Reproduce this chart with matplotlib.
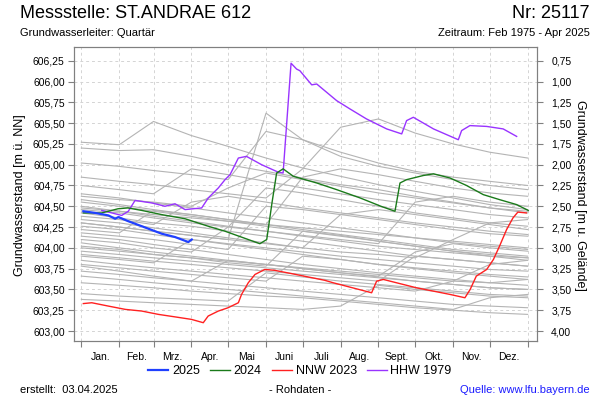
import matplotlib
matplotlib.use("Agg")
import matplotlib.pyplot as plt
from matplotlib.lines import Line2D

plt.rcParams['font.family'] = ['Liberation Sans', 'DejaVu Sans']

# Monatsgrenzen (Tag im Jahr)
month_days = [0, 31, 59, 90, 120, 151, 181, 212, 243, 273, 304, 334, 365]
month_names = ["Jan.", "Feb.", "Mrz.", "Apr.", "Mai", "Juni", "Juli",
               "Aug.", "Sept.", "Okt.", "Nov.", "Dez."]
gelaende = 607.0

# Jahresganglinien (grau), Werte am Monatsanfang
gray_years = [
    [605.27, 605.24, 605.52, 605.35, 605.22, 605.08, 604.96, 604.86, 604.76, 604.68, 604.60, 604.52, 604.46],
    [605.20, 605.17, 605.18, 605.10, 605.00, 604.92, 604.84, 604.76, 604.70, 604.62, 604.55, 604.48, 604.42],
    [605.02, 604.98, 604.93, 604.88, 604.82, 605.40, 605.30, 605.15, 605.02, 604.92, 604.85, 604.80, 604.75],
    [604.85, 604.80, 604.76, 604.70, 604.65, 604.60, 604.95, 605.45, 605.55, 605.38, 605.25, 605.15, 605.08],
    [604.30, 604.25, 604.20, 604.15, 604.10, 605.62, 605.30, 605.10, 604.98, 604.90, 604.82, 604.75, 604.70],
    [604.62, 604.58, 604.55, 604.50, 604.72, 604.90, 604.82, 604.74, 604.66, 604.60, 604.54, 604.48, 604.44],
    [604.58, 604.52, 604.46, 604.40, 604.34, 604.28, 604.85, 604.95, 604.88, 604.80, 604.72, 604.66, 604.62],
    [604.55, 604.50, 604.44, 604.38, 604.32, 604.26, 604.20, 604.14, 604.08, 604.02, 603.96, 603.92, 603.88],
    [604.50, 604.44, 604.38, 604.32, 604.26, 604.20, 604.15, 604.10, 604.05, 604.55, 604.62, 604.55, 604.50],
    [604.46, 604.42, 604.36, 604.30, 604.25, 604.72, 604.66, 604.58, 604.50, 604.42, 604.36, 604.30, 604.26],
    [604.42, 604.36, 604.30, 604.26, 604.20, 604.14, 604.08, 604.02, 603.96, 603.90, 603.86, 603.82, 603.78],
    [604.38, 604.34, 604.28, 604.55, 604.62, 604.55, 604.48, 604.42, 604.36, 604.30, 604.25, 604.20, 604.16],
    [604.34, 604.30, 604.24, 604.18, 604.12, 604.06, 604.00, 604.40, 604.46, 604.40, 604.34, 604.28, 604.22],
    [604.30, 604.25, 604.20, 604.15, 604.10, 604.05, 604.00, 603.95, 603.92, 603.88, 604.10, 604.30, 604.34],
    [604.26, 604.22, 604.16, 604.10, 604.04, 603.98, 603.92, 603.86, 603.80, 603.76, 603.72, 603.68, 603.65],
    [604.22, 604.18, 604.45, 604.40, 604.34, 604.28, 604.22, 604.16, 604.10, 604.04, 603.98, 603.94, 603.90],
    [604.18, 604.14, 604.10, 604.04, 603.98, 604.50, 604.46, 604.40, 604.34, 604.28, 604.22, 604.17, 604.14],
    [604.14, 604.10, 604.04, 603.98, 603.92, 603.86, 603.80, 603.75, 603.70, 603.66, 603.62, 603.58, 603.55],
    [604.10, 604.06, 604.00, 603.95, 604.25, 604.20, 604.14, 604.08, 604.02, 603.98, 603.94, 603.90, 603.88],
    [604.06, 604.00, 603.95, 603.90, 603.85, 603.80, 603.75, 603.70, 603.66, 603.95, 604.05, 604.00, 603.96],
    [604.02, 603.98, 603.92, 603.88, 603.82, 603.78, 604.20, 604.15, 604.08, 604.02, 603.96, 603.90, 603.85],
    [603.96, 603.92, 603.88, 603.84, 603.80, 603.76, 603.72, 603.68, 603.64, 603.60, 603.56, 603.52, 603.50],
    [603.90, 603.86, 603.82, 604.10, 604.05, 604.00, 603.95, 603.90, 603.86, 603.82, 603.78, 603.74, 603.72],
    [603.85, 603.80, 603.76, 603.72, 603.68, 603.64, 603.60, 603.56, 603.52, 603.48, 603.60, 603.80, 603.85],
    [603.80, 603.76, 603.72, 603.68, 603.64, 603.60, 603.90, 603.86, 603.80, 603.75, 603.70, 603.66, 603.62],
    [603.78, 603.72, 603.66, 603.60, 603.56, 603.52, 603.48, 603.44, 603.40, 603.36, 603.32, 603.30, 603.28],
    [603.72, 603.68, 603.64, 603.60, 603.85, 603.80, 603.75, 603.70, 603.65, 603.60, 603.56, 603.52, 603.50],
    [603.66, 603.62, 603.58, 603.54, 603.50, 603.46, 603.42, 603.38, 603.34, 603.30, 603.26, 603.40, 603.44],
    [603.58, 603.55, 603.52, 603.48, 603.45, 603.42, 603.40, 603.36, 603.32, 603.28, 603.25, 603.22, 603.20],
    [603.45, 603.42, 603.40, 603.38, 603.36, 603.70, 603.65, 603.60, 603.56, 603.52, 603.48, 603.44, 603.42],
    [603.38, 603.36, 603.34, 603.32, 603.30, 603.28, 603.26, 603.30, 603.55, 603.50, 603.46, 603.42, 603.40],
    [604.65, 604.60, 604.54, 604.48, 604.42, 604.36, 604.30, 604.24, 604.18, 604.12, 604.06, 604.02, 603.98],
    [604.75, 604.70, 604.65, 604.95, 604.88, 604.80, 604.72, 604.65, 604.58, 604.52, 604.46, 604.40, 604.36],
    [604.48, 604.44, 604.40, 604.36, 604.32, 604.28, 604.24, 604.20, 604.16, 604.12, 604.08, 604.04, 604.00],
    [603.92, 603.88, 603.84, 603.80, 603.76, 603.72, 603.68, 603.64, 603.60, 603.90, 603.86, 603.82, 603.78],
    [604.00, 603.96, 603.92, 603.88, 603.84, 603.80, 603.76, 603.72, 603.68, 603.64, 603.60, 603.58, 603.62],
]

# 2025
d2025 = [1.6, 11.2, 22.1, 27.6, 30.3, 38.4, 49.4, 65.7, 76.6, 87.5, 90.3]
w2025 = [604.44, 604.42, 604.39, 604.35, 604.37, 604.32, 604.26, 604.17, 604.13, 604.07, 604.10]

# 2024
d2024 = [1.6, 16.7, 30, 38, 49.4, 65.6, 84.8, 103.7, 117.5, 136.5, 146, 151.6, 156, 159.7,
         165, 173.4, 192.5, 208.8, 228, 245, 256.5, 260.6, 266, 279.7, 288, 301.5, 315,
         328.7, 342, 356, 365.5]
w2024 = [604.42, 604.42, 604.47, 604.48, 604.45, 604.40, 604.35, 604.26, 604.20, 604.10, 604.05,
         604.10, 604.55, 604.90, 604.95, 604.86, 604.78, 604.70, 604.60, 604.50, 604.44, 604.78,
         604.82, 604.87, 604.89, 604.84, 604.75, 604.64, 604.58, 604.52, 604.45]

# NNW 2023
dnnw = [1.6, 8.5, 22, 36, 49.4, 63, 76.6, 90, 99.7, 103.7, 112, 120, 128.4, 131, 136.5, 142,
        150, 158, 172, 185.5, 199, 206, 237.4, 241.5, 247, 274, 301.5, 313.7, 318, 323, 331.5,
        337, 342, 347.8, 353, 357, 364]
wnnw = [603.33, 603.34, 603.30, 603.26, 603.24, 603.20, 603.17, 603.14, 603.10, 603.18, 603.24,
        603.28, 603.34, 603.44, 603.58, 603.68, 603.74, 603.73, 603.69, 603.65, 603.61, 603.58,
        603.46, 603.60, 603.62, 603.52, 603.44, 603.40, 603.50, 603.66, 603.74, 603.86, 604.02,
        604.22, 604.36, 604.43, 604.42]

# HHW 1979
dhhw = [16.7, 33, 38.4, 43.9, 57.6, 68.4, 76.6, 84.8, 98.4, 103.8, 112, 117.5, 121.6, 128.4,
        135, 147.4, 161, 165, 171.5, 176, 178.7, 188.4, 192.5, 208.8, 219.7, 233.2, 249.7, 262,
        266, 271.5, 288, 308.3, 311, 317.8, 331.5, 345, 356]
whhw = [604.45, 604.39, 604.44, 604.57, 604.54, 604.50, 604.53, 604.46, 604.48, 604.60, 604.72,
        604.82, 604.88, 605.08, 605.10, 605.00, 604.91, 604.90, 606.22, 606.15, 606.13, 605.96,
        605.97, 605.77, 605.67, 605.55, 605.43, 605.37, 605.53, 605.57, 605.43, 605.30, 605.41,
        605.47, 605.46, 605.43, 605.34]

fig = plt.figure(figsize=(6, 4), dpi=100)
ax = fig.add_axes([0.124, 0.1475, 0.7715, 0.735])

for vals in gray_years:
    ax.plot(month_days, vals, color='#b4b4b4', lw=0.8, zorder=2)

ax.plot(dnnw, wnnw, color='#ff2020', lw=1.0, zorder=4)
ax.plot(dhhw, whhw, color='#9933ff', lw=1.0, zorder=4)
ax.plot(d2024, w2024, color='#1a7a1a', lw=1.0, zorder=5)
ax.plot(d2025, w2025, color='#2040ff', lw=1.6, zorder=6)

ylo, yhi = 602.88, 606.415
ax.set_xlim(-5.7, 372.9)
ax.set_ylim(ylo, yhi)

yt = [603 + 0.25 * i for i in range(14)]
ax.set_yticks(yt)
ax.set_yticklabels([f"{v:.2f}".replace('.', ',') for v in yt], fontsize=7.5)

ax.set_xticks(month_days)
ax.set_xticklabels([])
mids = [(month_days[i] + month_days[i + 1]) / 2 for i in range(12)]
ax.set_xticks(mids, minor=True)
ax.set_xticklabels(month_names, minor=True, fontsize=7.5)
ax.tick_params(axis='x', which='minor', length=0, pad=8)
ax.tick_params(axis='x', which='major', length=4, color='#808080')
ax.tick_params(axis='y', length=4, color='#808080', pad=3)

ax.grid(True, which='major', color='#d4d4d4', ls=(0, (3, 3)), lw=0.7)
ax.set_axisbelow(True)
for s in ax.spines.values():
    s.set_color('#808080')

ax2 = ax.twinx()
ax2.set_ylim(gelaende - ylo, gelaende - yhi)
rt = [0.75 + 0.25 * i for i in range(14)]
ax2.set_yticks(rt)
ax2.set_yticklabels([f"{v:.2f}".replace('.', ',') for v in rt], fontsize=7.5)
ax2.tick_params(axis='y', length=4, color='#808080', pad=6)
for s in ax2.spines.values():
    s.set_color('#808080')

fig.text(0.034, 0.5125, "Grundwasserstand [m ü. NN]", rotation=90, fontsize=9,
         ha='center', va='center')
fig.text(0.966, 0.5125, "Grundwasserstand [m u. Gelände]", rotation=-90, fontsize=9,
         ha='center', va='center')

fig.text(0.033, 0.965, "Messstelle: ST.ANDRAE 612", fontsize=13, ha='left', va='center')
fig.text(0.983, 0.965, "Nr: 25117", fontsize=13, ha='right', va='center')
fig.text(0.033, 0.917, "Grundwasserleiter: Quartär", fontsize=8, ha='left', va='center')
fig.text(0.983, 0.917, "Zeitraum: Feb 1975 - Apr 2025", fontsize=8, ha='right', va='center')

handles = [Line2D([], [], color='#2040ff', lw=1.6),
           Line2D([], [], color='#1a7a1a', lw=1.0),
           Line2D([], [], color='#ff2020', lw=1.0),
           Line2D([], [], color='#9933ff', lw=1.0)]
fig.legend(handles, ["2025", "2024", "NNW 2023", "HHW 1979"], loc='center',
           bbox_to_anchor=(0.5, 0.072), ncol=4, frameon=False, fontsize=9,
           handlelength=1.6, handletextpad=0.3, columnspacing=0.8)

fig.text(0.033, 0.025, "erstellt:  03.04.2025", fontsize=8, ha='left', va='center')
fig.text(0.5, 0.025, "- Rohdaten -", fontsize=8, ha='center', va='center')
fig.text(0.983, 0.025, "Quelle: www.lfu.bayern.de", fontsize=8, ha='right',
         va='center', color='#1a1aff')

fig.savefig("out.png", dpi=100)
